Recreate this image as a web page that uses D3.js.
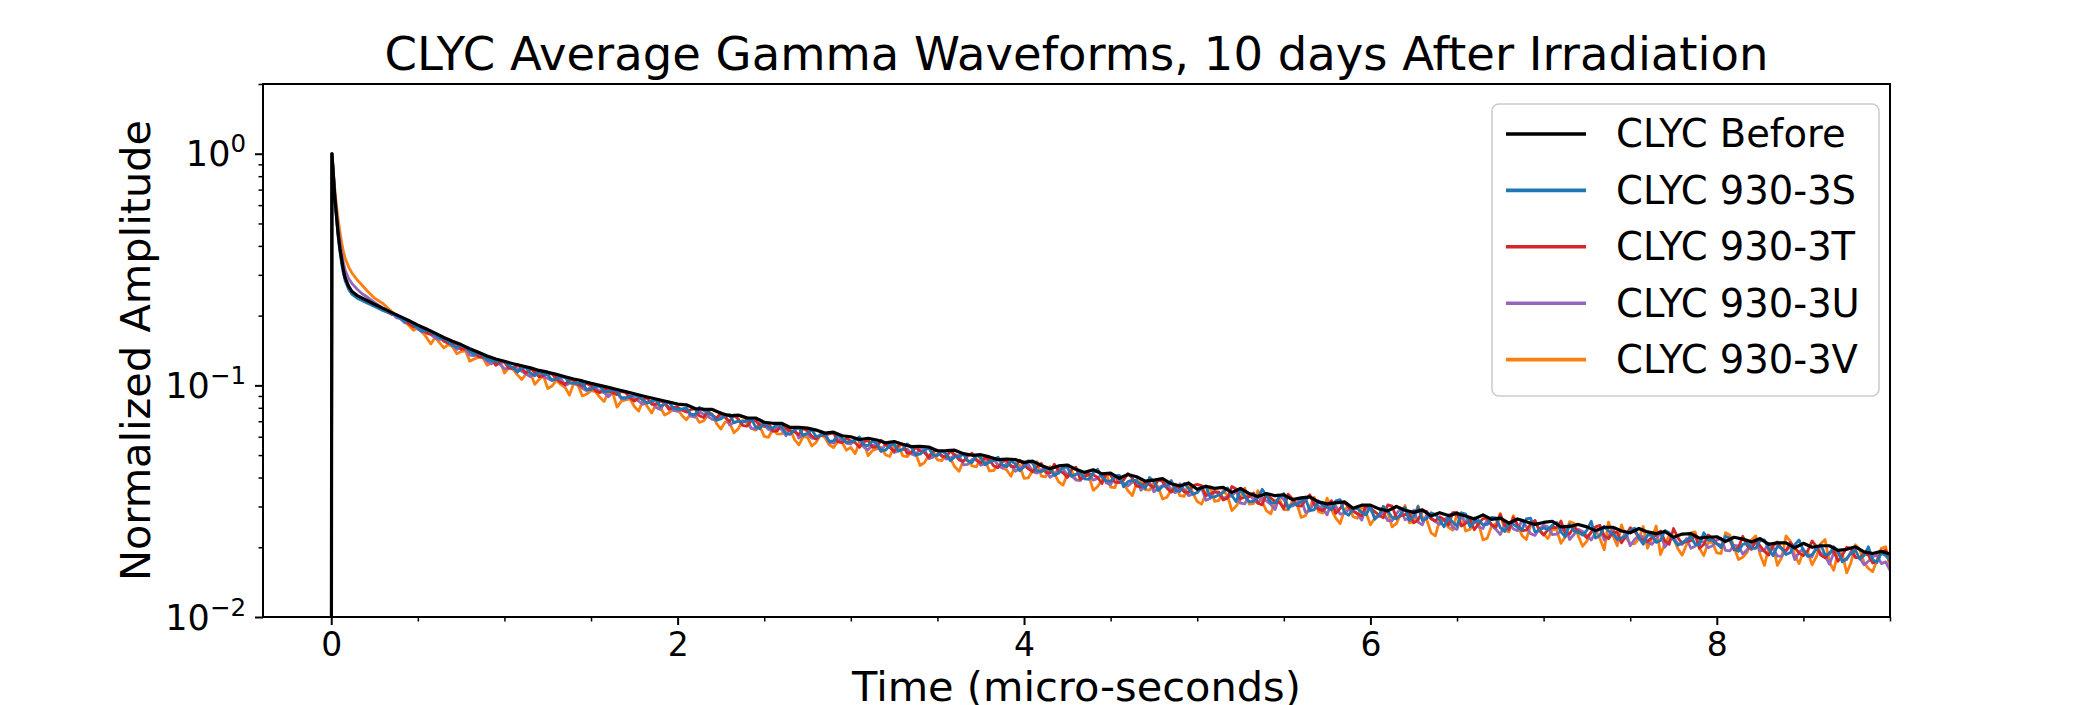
<!DOCTYPE html>
<html>
<head>
<meta charset="utf-8">
<script src="https://cdn.jsdelivr.net/npm/d3@7"></script>
<style>
body { margin: 0; background: #fff; }
svg text { font-family: "DejaVu Sans", sans-serif; fill: #000; }
</style>
</head>
<body>
<div id="chart"></div>
<script>
// sample times (micro-seconds): dense around the pulse, then a fixed step
const timeEarly = [-0.03, -0.002, 0.004, 0.01, 0.02, 0.03, 0.04, 0.05, 0.06, 0.07, 0.08, 0.1, 0.12, 0.15, 0.18, 0.21, 0.25, 0.3];
// reference waveform every 0.05 us, irradiated ones every 0.025 us (0.35 .. 9.0)
const timesBefore = timeEarly.concat(d3.range(7, 181).map(i => +(i * 0.05).toFixed(3)));
const timesIrr = timeEarly.concat(d3.range(14, 361).map(i => +(i * 0.025).toFixed(3)));

// amplitudes, percent of the peak
const clycBefore = [0.01, 0.01, 100, 86, 66, 54, 45, 39, 35, 31.5, 29.2, 26.8, 25.4, 24.4, 23.8, 23.2, 22.4, 21.5,
    20.6, 19.8, 19.0, 18.2, 17.5, 16.8, 16.1, 15.5, 15.0, 14.4, 13.9, 13.4, 13.0, 12.7,
    12.4, 12.15, 11.9, 11.6, 11.4, 11.15, 10.9, 10.65, 10.45, 10.2, 10.0, 9.8, 9.6, 9.4, 9.2, 9.0, 8.82, 8.65, 8.47, 8.3,
    8.24, 7.94, 7.89, 7.87, 7.58, 7.39, 7.44, 7.24, 7.23, 6.93, 6.86, 6.86, 6.58, 6.58, 6.54, 6.41, 6.22, 6.28, 6.06, 6.0,
    5.84, 5.91, 5.81, 5.65, 5.72, 5.57, 5.44, 5.46, 5.42, 5.22, 5.23, 5.25, 5.07, 4.99, 5.02, 4.91, 4.78, 4.81, 4.78, 4.65,
    4.71, 4.51, 4.37, 4.49, 4.53, 4.34, 4.21, 4.32, 4.15, 4.18, 3.97, 4.12, 4.03, 3.86, 3.90, 3.96, 3.76, 3.68, 3.79, 3.56,
    3.67, 3.59, 3.63, 3.45, 3.59, 3.41, 3.31, 3.41, 3.34, 3.37, 3.21, 3.27, 3.30, 3.14, 3.08, 3.11, 3.14, 2.95, 3.04, 3.04,
    2.93, 2.87, 3.00, 2.89, 2.83, 2.90, 2.73, 2.82, 2.74, 2.80, 2.73, 2.65, 2.76, 2.64, 2.67, 2.54, 2.65, 2.58, 2.51, 2.56,
    2.59, 2.45, 2.46, 2.51, 2.45, 2.36, 2.44, 2.44, 2.35, 2.31, 2.41, 2.33, 2.29, 2.34, 2.21, 2.28, 2.29, 2.19, 2.21, 2.22,
    2.12, 2.21, 2.17, 2.11, 2.18, 2.06, 2.09, 2.09, 1.99, 2.08, 2.00, 2.03, 2.03, 1.94, 1.96, 2.01, 1.91, 1.88, 1.92, 1.87];

const clyc3S = [0.01, 0.01, 100, 86, 66, 53, 44, 38, 33.5, 30.5, 28.3, 26, 24.7, 23.8, 23.2, 22.6, 21.9, 21.0,
    20.4, 20.0, 19.4, 18.9, 19.0, 18.2, 17.7, 17.1, 17.3, 17.0, 16.5, 16.0, 15.9, 15.5, 14.9, 14.6, 14.9, 14.6, 14.0, 13.6, 13.8, 13.5, 12.9, 12.8, 12.7, 12.7, 12.7,
    12.2, 11.9, 11.4, 11.9, 11.9, 11.3, 11.0, 11.5, 11.2, 11.1, 10.5, 10.6, 10.9, 10.8, 10.3, 10.2, 10.2, 10.2, 9.58, 9.59, 9.9, 9.9, 9.41, 9.41, 9.6, 9.41, 8.84, 8.84, 8.93, 9.11, 8.92, 8.64, 8.38, 8.56, 8.64, 8.13, 8.3, 8.47, 7.96, 7.89,
    7.9, 8.0, 7.52, 7.46, 8.03, 7.81, 7.59, 7.44, 7.07, 7.16, 7.41, 7.5, 6.91, 7.0, 6.94, 7.02, 7.18, 6.62, 6.5, 6.93, 6.59, 6.55, 6.77, 6.65, 6.19, 6.15, 6.43, 6.58, 6.07, 6.22, 6.43, 6.0, 6.08, 6.22, 5.73, 5.76, 6.08, 5.91, 5.68, 5.7,
    5.78, 5.99, 5.54, 5.5, 5.75, 5.61, 5.22, 5.25, 5.5, 5.58, 5.21, 5.29, 5.59, 5.39, 5.02, 5.05, 5.24, 5.37, 5.01, 4.98, 5.21, 5.07, 4.73, 4.91, 4.92, 5.05, 4.72, 4.64, 5.0, 4.87, 4.54, 4.66, 4.73, 4.9, 4.53, 4.45, 4.71, 4.59, 4.28, 4.44,
    4.73, 4.61, 4.27, 4.24, 4.35, 4.37, 4.08, 4.18, 4.42, 4.44, 4.06, 4.13, 4.19, 3.95, 3.93, 4.2, 4.34, 4.02, 3.87, 3.85, 4.07, 4.09, 3.65, 3.84, 3.9, 3.87, 3.73, 3.59, 4.0, 3.86, 3.52, 3.66, 3.68, 3.88, 3.52, 3.49, 3.77, 3.6, 3.39, 3.45,
    3.61, 3.67, 3.29, 3.3, 3.36, 3.45, 3.61, 3.34, 3.15, 3.55, 3.32, 3.14, 3.16, 3.27, 3.56, 3.34, 3.12, 3.11, 3.29, 3.41, 2.93, 3.08, 3.06, 3.14, 3.25, 2.88, 2.9, 3.17, 3.03, 2.98, 2.9, 3.17, 3.21, 2.83, 2.75, 2.95, 2.94, 2.83, 2.76, 3.01,
    2.64, 2.75, 3.0, 2.87, 2.69, 2.65, 2.78, 2.97, 2.61, 2.72, 2.99, 2.61, 2.66, 2.82, 2.77, 2.63, 2.45, 2.69, 2.57, 2.47, 2.82, 2.78, 2.45, 2.57, 2.61, 2.5, 2.51, 2.69, 2.68, 2.43, 2.34, 2.54, 2.51, 2.44, 2.38, 2.65, 2.67, 2.33, 2.37, 2.43,
    2.38, 2.49, 2.56, 2.33, 2.22, 2.51, 2.35, 2.32, 2.26, 2.37, 2.59, 2.19, 2.25, 2.46, 2.35, 2.28, 2.17, 2.19, 2.23, 2.36, 2.42, 2.2, 2.06, 2.26, 2.25, 2.1, 2.14, 2.36, 2.31, 2.16, 2.04, 2.1, 2.14, 2.22, 2.06, 2.05, 2.31, 2.15, 2.14, 2.07,
    1.99, 2.23, 2.19, 1.97, 1.92, 2.06, 2.08, 1.98, 1.98, 2.14, 2.15, 1.97, 1.84, 2.02, 1.98, 1.86, 1.9, 2.05, 2.15, 1.94, 1.83, 1.86, 1.96, 2.05, 1.86, 1.87, 2.01, 1.92, 1.73, 1.79, 1.88, 1.95, 1.78, 1.84, 2.01, 1.77, 1.72, 1.89, 1.84, 1.76];

const clyc3T = [0.01, 0.01, 100, 86, 67, 54, 45, 39, 34.5, 31, 29, 26.5, 25, 24, 23.4, 22.8, 22.2, 21.2,
    20.2, 20.2, 19.6, 19.0, 18.4, 17.9, 18.0, 17.7, 16.8, 16.6, 16.6, 16.3, 15.5, 15.2, 15.2, 15.1, 14.3, 14.4, 14.3, 14.0, 13.3, 13.2, 13.1, 13.2, 12.2, 12.6, 12.6,
    11.9, 11.8, 12.3, 11.8, 11.3, 11.8, 11.4, 10.9, 11.0, 11.2, 11.2, 10.7, 10.3, 10.1, 10.6, 10.5, 10.1, 9.93, 10.2, 10.0, 9.49, 9.3, 9.7, 9.51, 9.31, 9.12, 9.41, 9.31, 8.84, 8.56, 8.83, 8.73, 8.82, 8.29, 8.29, 8.56, 8.39, 7.88, 8.04, 8.05,
    7.82, 7.67, 7.85, 7.94, 7.39, 7.26, 7.74, 7.44, 7.22, 7.62, 7.26, 6.98, 7.43, 7.15, 6.72, 6.66, 7.04, 7.05, 6.71, 6.65, 6.87, 6.34, 6.36, 6.79, 6.53, 6.35, 6.3, 6.12, 6.53, 6.35, 6.04, 5.87, 6.08, 6.09, 6.17, 6.25, 5.71, 5.66, 5.92, 5.76,
    5.66, 5.4, 5.71, 5.79, 5.4, 5.43, 5.8, 5.54, 5.39, 5.19, 5.49, 5.57, 5.09, 5.12, 5.41, 5.21, 5.13, 4.89, 5.17, 5.25, 4.94, 4.92, 5.2, 5.01, 4.77, 4.69, 4.97, 5.09, 4.75, 4.62, 4.89, 4.76, 4.49, 4.41, 4.68, 4.74, 4.47, 4.45, 4.75, 4.53,
    4.36, 4.24, 4.45, 4.6, 4.21, 4.19, 4.57, 4.27, 4.2, 4.0, 4.33, 4.43, 3.93, 4.03, 4.14, 4.11, 4.0, 3.77, 4.16, 4.1, 3.82, 3.8, 3.9, 4.16, 3.98, 3.67, 3.65, 3.82, 3.72, 3.62, 3.91, 3.85, 3.6, 3.46, 3.67, 3.61, 3.47, 3.45, 3.69, 3.74,
    3.69, 3.34, 3.39, 3.48, 3.46, 3.2, 3.26, 3.66, 3.57, 3.24, 3.29, 3.31, 3.43, 3.1, 3.05, 3.41, 3.26, 3.14, 3.12, 2.94, 3.39, 3.24, 3.03, 3.01, 3.19, 3.37, 3.06, 2.92, 2.88, 3.01, 3.18, 2.8, 2.94, 3.14, 2.97, 2.86, 2.79, 2.74, 3.03, 2.95,
    2.85, 2.75, 2.68, 3.05, 3.01, 2.68, 2.73, 2.77, 2.78, 2.55, 2.62, 2.87, 2.86, 2.65, 2.6, 2.71, 2.64, 2.49, 2.82, 2.83, 2.47, 2.54, 2.64, 2.38, 2.53, 2.66, 2.67, 2.5, 2.44, 2.77, 2.5, 2.38, 2.69, 2.49, 2.36, 2.37, 2.52, 2.61, 2.37, 2.26,
    2.38, 2.44, 2.43, 2.6, 2.29, 2.28, 2.45, 2.34, 2.29, 2.2, 2.32, 2.45, 2.49, 2.24, 2.18, 2.32, 2.32, 2.09, 2.23, 2.43, 2.35, 2.2, 2.15, 2.12, 2.2, 2.26, 2.35, 2.13, 2.06, 2.41, 2.2, 2.08, 2.12, 2.13, 2.26, 1.98, 2.06, 2.26, 2.19, 2.07,
    2.04, 2.12, 2.15, 1.95, 1.99, 2.23, 2.03, 1.96, 2.13, 2.03, 1.92, 1.85, 2.03, 2.11, 1.96, 1.93, 2.1, 1.99, 1.89, 1.84, 1.93, 2.13, 2.02, 1.85, 1.8, 1.89, 1.93, 1.74, 1.85, 2.0, 1.98, 1.81, 1.8, 1.88, 1.85, 1.71, 1.74, 1.92, 1.94, 1.72];

const clyc3U = [0.01, 0.01, 100, 87, 69, 57, 48.5, 42, 37.5, 34, 31.5, 29, 27.5, 26, 24.8, 24, 22.8, 21.5,
    20.6, 19.6, 19.4, 18.6, 18.8, 18.2, 17.5, 17.0, 17.2, 16.6, 16.0, 15.8, 15.8, 15.3, 14.9, 14.3, 14.6, 14.3, 13.5, 13.4, 13.6, 13.2, 12.7, 12.4, 12.7, 12.3, 11.8,
    11.8, 12.0, 11.8, 11.5, 11.2, 10.9, 11.4, 11.3, 10.9, 10.7, 10.5, 10.9, 10.7, 10.0, 10.2, 10.2, 10.1, 9.72, 9.48, 9.89, 9.8, 9.4, 9.31, 8.92, 9.31, 9.31, 8.74, 8.74, 9.02, 8.83, 8.55, 8.28, 8.46, 8.56, 8.03, 7.87, 8.39, 8.05, 7.79, 7.72,
    7.9, 7.92, 7.36, 7.3, 7.71, 7.5, 7.35, 7.13, 7.07, 7.39, 7.41, 6.75, 6.91, 7.0, 6.94, 7.1, 6.53, 6.48, 6.85, 6.72, 6.45, 6.34, 6.57, 6.45, 6.06, 6.55, 6.5, 5.92, 6.14, 6.16, 5.92, 5.87, 6.14, 6.15, 5.67, 5.63, 5.83, 5.85, 5.62, 5.58,
    5.9, 5.75, 5.42, 5.27, 5.52, 5.49, 5.17, 5.6, 5.5, 5.13, 5.21, 5.29, 5.31, 5.06, 4.97, 5.38, 5.29, 4.83, 4.9, 5.04, 5.0, 4.81, 4.84, 5.01, 4.98, 4.54, 4.56, 4.79, 4.8, 4.52, 4.59, 4.81, 4.83, 4.51, 4.39, 4.6, 4.52, 4.26, 4.37, 4.53,
    4.55, 4.24, 4.18, 4.33, 4.3, 4.01, 4.12, 4.36, 4.38, 4.09, 4.06, 3.91, 3.89, 4.12, 4.14, 3.9, 3.96, 4.15, 3.79, 3.73, 4.03, 3.84, 3.78, 3.68, 3.82, 3.91, 3.53, 3.67, 3.8, 3.47, 3.6, 3.7, 3.83, 3.5, 3.44, 3.76, 3.54, 3.34, 3.39, 3.45,
    3.61, 3.19, 3.25, 3.48, 3.39, 3.27, 3.29, 3.34, 3.5, 3.1, 3.08, 3.38, 3.22, 3.1, 3.29, 3.17, 3.06, 2.91, 3.35, 3.21, 3.03, 3.01, 3.1, 3.24, 2.83, 2.88, 3.13, 3.01, 2.94, 2.76, 3.12, 3.01, 2.78, 2.8, 2.91, 2.89, 2.79, 2.62, 2.97, 2.92,
    2.7, 2.72, 2.82, 2.61, 2.6, 2.79, 2.93, 2.63, 2.67, 2.89, 2.57, 2.5, 2.77, 2.68, 2.58, 2.51, 2.64, 2.69, 2.43, 2.39, 2.74, 2.56, 2.53, 2.68, 2.45, 2.41, 2.64, 2.48, 2.39, 2.27, 2.5, 2.54, 2.4, 2.36, 2.62, 2.45, 2.29, 2.25, 2.4, 2.49,
    2.45, 2.27, 2.28, 2.35, 2.47, 2.16, 2.27, 2.39, 2.34, 2.25, 2.15, 2.31, 2.42, 2.15, 2.23, 2.4, 2.15, 2.16, 2.32, 2.03, 2.16, 2.25, 2.22, 2.1, 2.06, 2.17, 2.32, 2.0, 2.13, 2.21, 2.07, 2.06, 2.18, 1.98, 2.02, 2.12, 2.11, 1.99, 2.03, 2.15,
    2.19, 1.94, 1.93, 2.04, 2.03, 1.87, 1.95, 2.05, 2.11, 1.93, 1.94, 2.08, 1.99, 1.83, 1.83, 1.93, 2.02, 1.77, 1.91, 1.96, 1.83, 1.82, 2.02, 1.89, 1.84, 1.69, 1.89, 1.92, 1.75, 1.77, 1.92, 1.81, 1.8, 1.68, 1.74, 1.82, 1.85, 1.7, 1.73, 1.59];

const clyc3V = [0.01, 0.01, 100, 88, 71, 60, 52, 46, 41.5, 38, 35.5, 32.5, 30.5, 28.5, 27, 25.5, 23.8, 22.5,
    20.8, 20.0, 19.6, 18.8, 18.1, 17.3, 17.7, 17.0, 16.1, 15.1, 16.1, 15.3, 14.5, 15.0, 14.7, 13.7, 14.0, 14.1, 12.7, 13.0, 13.2, 13.2, 12.2, 12.5, 12.5, 12.7, 11.3,
    11.9, 11.7, 11.1, 10.6, 11.2, 11.3, 10.1, 10.6, 11.0, 9.69, 9.94, 10.5, 10.1, 9.81, 9.07, 10.2, 10.0, 8.99, 9.17, 9.49, 9.39, 8.9, 8.51, 9.31, 9.31, 8.06, 8.55, 8.65, 8.74, 8.1, 7.74, 8.64, 8.11, 7.59, 8.29, 8.04, 7.45, 7.62, 7.88, 7.89,
    7.41, 7.1, 7.52, 7.46, 6.92, 7.02, 7.43, 7.52, 6.84, 6.48, 6.96, 6.9, 6.24, 6.49, 7.08, 6.88, 6.53, 6.41, 6.64, 6.02, 5.97, 6.48, 6.16, 6.18, 6.39, 6.48, 5.83, 5.53, 6.01, 5.96, 5.47, 5.68, 6.14, 5.97, 5.54, 5.39, 5.71, 5.66, 5.25, 5.4,
    5.07, 5.69, 5.65, 4.97, 5.23, 5.32, 5.4, 5.02, 4.93, 5.47, 5.49, 4.96, 4.92, 5.17, 5.08, 4.51, 4.64, 4.99, 5.12, 4.77, 4.73, 5.02, 4.84, 4.45, 4.26, 4.74, 4.77, 4.49, 4.45, 4.87, 4.79, 4.27, 4.29, 4.56, 4.43, 4.31, 4.05, 4.54, 4.51, 3.97,
    3.99, 4.29, 4.68, 4.06, 4.03, 4.46, 4.17, 3.83, 3.71, 4.13, 4.28, 3.91, 3.89, 4.16, 4.06, 3.52, 3.66, 3.9, 4.16, 3.64, 3.62, 4.09, 3.78, 3.51, 3.34, 3.79, 3.85, 3.55, 3.53, 3.82, 3.64, 3.23, 3.29, 3.54, 3.74, 3.34, 3.32, 3.79, 3.43, 3.15,
    3.07, 3.41, 3.65, 3.16, 3.18, 3.52, 3.33, 2.88, 3.01, 3.24, 3.6, 3.07, 3.09, 3.51, 3.15, 2.87, 2.79, 3.17, 3.22, 2.91, 2.9, 3.17, 3.1, 2.69, 2.74, 2.98, 3.29, 2.85, 2.81, 3.26, 2.9, 2.67, 2.53, 2.89, 3.03, 2.71, 2.67, 3.04, 2.82, 2.5,
    2.67, 2.75, 3.0, 2.84, 2.45, 2.53, 2.78, 3.03, 2.55, 2.58, 3.02, 2.7, 2.63, 2.31, 2.24, 2.63, 2.64, 2.44, 2.37, 2.8, 2.79, 2.35, 2.39, 2.57, 2.53, 2.15, 2.19, 2.48, 2.52, 2.8, 2.37, 2.33, 2.74, 2.49, 2.25, 2.16, 2.49, 2.61, 2.37, 2.28,
    2.18, 2.39, 2.38, 2.08, 2.22, 2.58, 2.54, 2.24, 2.02, 2.13, 2.34, 2.38, 2.18, 1.95, 2.57, 2.25, 2.03, 2.5, 2.2, 2.08, 2.07, 2.18, 2.46, 1.98, 2.18, 2.47, 1.86, 2.07, 2.24, 2.19, 1.97, 1.85, 2.05, 2.31, 2.33, 1.98, 1.84, 2.1, 2.1, 1.89,
    1.88, 2.31, 2.26, 1.99, 1.77, 1.81, 1.9, 2.15, 2.24, 1.86, 1.67, 2.0, 2.01, 1.67, 1.81, 2.24, 2.12, 1.85, 1.7, 1.92, 1.91, 1.68, 1.82, 2.07, 2.16, 1.73, 1.59, 1.9, 1.87, 1.55, 1.72, 2.05, 1.96, 1.72, 1.62, 1.57, 1.76, 1.98, 2.01, 1.63];

const seriesNames = ["CLYC Before", "CLYC 930-3S", "CLYC 930-3T", "CLYC 930-3U", "CLYC 930-3V"];
const seriesValues = [clycBefore, clyc3S, clyc3T, clyc3U, clyc3V];
const seriesTimes = [timesBefore, timesIrr, timesIrr, timesIrr, timesIrr];
const seriesColors = ["#000000", "#1f77b4", "#d62728", "#9467bd", "#ff7f0e"];

const xTicks = [0, 2, 4, 6, 8];
const xMinorTicks = [0.5, 1, 1.5, 2.5, 3, 3.5, 4.5, 5, 5.5, 6.5, 7, 7.5, 8.5, 9];
const yTicks = [0.01, 0.1, 1];
const yTickExps = ["\u22122", "\u22121", "0"];
const yMinorTicks = [0.02, 0.03, 0.04, 0.05, 0.06, 0.07, 0.08, 0.09, 0.2, 0.3, 0.4, 0.5, 0.6, 0.7, 0.8, 0.9, 2];

// figure size and axes box
const w = 2100, h = 705;
const margin = {top: 84, right: 210, bottom: 88, left: 263};

const svg = d3.select("#chart").append("svg")
    .attr("width", w)
    .attr("height", h)
    .style("display", "block");

svg.append("rect").attr("width", w).attr("height", h).attr("fill", "#fff");

const xScale = d3.scaleLinear()
    .domain([-0.394, 9])
    .range([margin.left, w - margin.right]);

const yScale = d3.scaleLog()
    .domain([0.01, 2])
    .range([h - margin.bottom, margin.top]);

svg.append("clipPath").attr("id", "plot-area")
    .append("rect")
    .attr("x", margin.left).attr("y", margin.top)
    .attr("width", w - margin.left - margin.right)
    .attr("height", h - margin.top - margin.bottom);

// waveforms: irradiated ones first, the reference on top
const plot = svg.append("g").attr("clip-path", "url(#plot-area)");
[4, 3, 2, 1, 0].forEach(k => {
    const t = seriesTimes[k];
    const line = d3.line()
        .x((d, i) => xScale(t[i]))
        .y(d => yScale(d / 100));
    plot.append("path")
        .datum(seriesValues[k])
        .attr("fill", "none")
        .attr("stroke", seriesColors[k])
        .attr("stroke-width", k === 0 ? 3.2 : 2.8)
        .attr("stroke-linejoin", "round")
        .attr("d", line);
});

// x axis
svg.append("g")
    .attr("transform", "translate(0," + (h - margin.bottom) + ")")
    .call(d3.axisBottom(xScale).tickValues(xTicks).tickSize(8).tickPadding(8).tickFormat(d3.format("d")))
    .call(g => g.select(".domain").remove())
    .call(g => g.selectAll("line").attr("stroke-width", 2))
    .call(g => g.selectAll("text").attr("font-size", 33));

svg.append("g")
    .attr("transform", "translate(0," + (h - margin.bottom) + ")")
    .call(d3.axisBottom(xScale).tickValues(xMinorTicks).tickSize(4.5).tickFormat(""))
    .call(g => g.select(".domain").remove())
    .call(g => g.selectAll("line").attr("stroke-width", 1.5));

// y axis with 10^n labels
svg.append("g")
    .attr("transform", "translate(" + margin.left + ",0)")
    .call(d3.axisLeft(yScale).tickValues(yTicks).tickSize(8).tickPadding(9).tickFormat(""))
    .call(g => g.select(".domain").remove())
    .call(g => g.selectAll("line").attr("stroke-width", 2))
    .call(g => g.selectAll(".tick text").each(function(d, i) {
        const t = d3.select(this).attr("font-size", 35).attr("dy", "0.35em");
        t.append("tspan").text("10");
        t.append("tspan").attr("font-size", 24.5).attr("dy", -14).text(yTickExps[i]);
    }));

svg.append("g")
    .attr("transform", "translate(" + margin.left + ",0)")
    .call(d3.axisLeft(yScale).tickValues(yMinorTicks).tickSize(4.5).tickFormat(""))
    .call(g => g.select(".domain").remove())
    .call(g => g.selectAll("line").attr("stroke-width", 1.5));

// axes frame
svg.append("rect")
    .attr("x", margin.left).attr("y", margin.top)
    .attr("width", w - margin.left - margin.right)
    .attr("height", h - margin.top - margin.bottom)
    .attr("fill", "none")
    .attr("stroke", "#000")
    .attr("stroke-width", 2);

// title and axis labels
const midX = (margin.left + w - margin.right) / 2;
svg.append("text")
    .attr("x", midX).attr("y", 70)
    .attr("text-anchor", "middle")
    .attr("font-size", 46.5)
    .text("CLYC Average Gamma Waveforms, 10 days After Irradiation");

svg.append("text")
    .attr("x", midX).attr("y", 701)
    .attr("text-anchor", "middle")
    .attr("font-size", 41.5)
    .text("Time (micro-seconds)");

svg.append("text")
    .attr("transform", "translate(150," + ((margin.top + h - margin.bottom) / 2) + ") rotate(-90)")
    .attr("text-anchor", "middle")
    .attr("font-size", 41.5)
    .text("Normalized Amplitude");

// legend
const legend = svg.append("g").attr("transform", "translate(1492,104)");
legend.append("rect")
    .attr("width", 387).attr("height", 292)
    .attr("rx", 7).attr("ry", 7)
    .attr("fill", "#fff").attr("fill-opacity", 0.8)
    .attr("stroke", "#cccccc").attr("stroke-width", 1.6);

seriesNames.forEach((name, i) => {
    const row = legend.append("g").attr("transform", "translate(0," + (30 + i * 56.4) + ")");
    row.append("line")
        .attr("x1", 14).attr("x2", 94)
        .attr("stroke", seriesColors[i])
        .attr("stroke-width", 3.6);
    row.append("text")
        .attr("x", 124).attr("dy", "0.35em")
        .attr("font-size", 38.5)
        .text(name);
});
</script>
</body>
</html>
